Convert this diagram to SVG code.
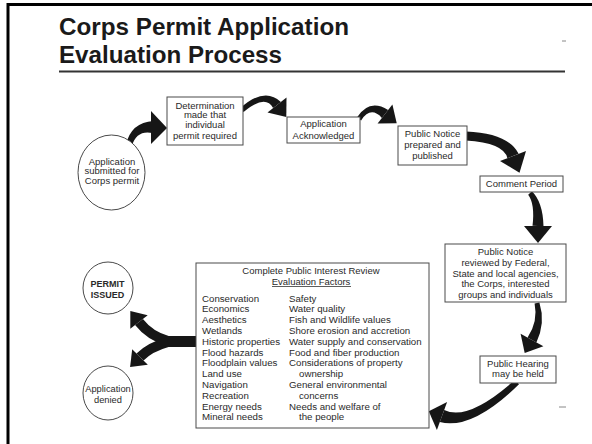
<svg xmlns="http://www.w3.org/2000/svg" width="592" height="444" viewBox="0 0 592 444">
<style>
.box{fill:#fff;stroke:#4a4a4a;stroke-width:1}
.t{font-family:"Liberation Sans",Arial,sans-serif;font-size:9.5px;fill:#2a2a2a;text-anchor:middle}
.f{font-family:"Liberation Sans",Arial,sans-serif;font-size:9.7px;fill:#2a2a2a}
.b{font-weight:bold}
.arr{fill:none;stroke:#161616;stroke-linecap:butt}
.hd{fill:#161616}
.title{font-family:"Liberation Sans",Arial,sans-serif;font-size:24px;font-weight:bold;fill:#1a1a1a}
</style>
<rect width="592" height="444" fill="#fff"/>
<line x1="7" y1="4.5" x2="592" y2="4.5" stroke="#000" stroke-width="3"/>
<line x1="8" y1="3" x2="8" y2="444" stroke="#000" stroke-width="3"/>
<g id="title">
<text class="title" x="59" y="35" textLength="290" lengthAdjust="spacingAndGlyphs">Corps Permit Application</text>
<text class="title" x="59" y="63" textLength="223" lengthAdjust="spacingAndGlyphs">Evaluation Process</text>
<line x1="59" y1="71.5" x2="565" y2="71.5" stroke="#333" stroke-width="2"/>
</g>
<line x1="562" y1="41" x2="566" y2="41" stroke="#888" stroke-width="1"/>
<line x1="559" y1="407" x2="566" y2="407" stroke="#888" stroke-width="1"/>

<g id="connectors">
<path class="hd" d="M126.1,144.25 Q131.3,122.4 153.3,121 L152.7,133 Q136.7,129.6 131.9,145.75 Z"/>
<polygon class="hd" points="151,111 167,128 151,144"/>
<path class="hd" d="M240.4,108.1 Q264.5,86.3 280.9,101.9 L273.1,108.1 Q265.5,93.7 243.6,111.9 Z"/>
<polygon class="hd" points="286.5,97.6 286.3,116.9 267.5,112.4"/>
<path class="hd" d="M356.9,117.6 Q369.3,98.3 388.1,110.1 L381.9,117.9 Q370.7,105.7 361.1,120.4 Z"/>
<polygon class="hd" points="392.4,104.6 396.7,123.3 377.6,123.4"/>
<path class="hd" d="M466.2,131.5 Q508,133.2 518.6,153.8 L507.4,158.2 Q504,142.8 465.8,140.5 Z"/>
<polygon class="hd" points="526,151 519.5,172.7 500,161"/>
<path class="hd" d="M531.9,191.3 Q542.9,202.1 543.5,226.2 L532.5,225.8 Q535.1,203.9 528.2,194.7 Z"/>
<polygon class="hd" points="524,226 552,226 538,243"/>
<path class="hd" d="M539.4,302.4 Q545.7,322.5 536.4,342.4 L527.6,337.6 Q538.3,321.5 534.6,303.6 Z"/>
<polygon class="hd" points="543.4,346.3 524.7,353.1 520.6,333.7"/>
<path class="hd" d="M519,384.2 Q472,430.3 439.8,422.1 L444.2,409.9 Q468,421.7 515,379.8 Z"/>
<polygon class="hd" points="447.1,401.9 428.8,411.2 436.9,430.1"/>
<path class="arr" stroke-width="11" d="M197,341.5 L162,341.5"/>
<path class="arr" stroke-width="10" d="M168,341 Q150,336 139,322"/>
<polygon class="hd" points="147.7,315.2 130.3,310.9 130.3,328.8"/>
<path class="arr" stroke-width="10" d="M168,342 Q150,347 140,357"/>
<polygon class="hd" points="147.8,364.8 130.1,366.9 132.2,349.2"/>
</g>

<g id="submitted">
<ellipse class="box" cx="111.5" cy="172.5" rx="33.5" ry="37.5"/>
<text class="t" x="112" y="164.5">Application</text>
<text class="t" x="112" y="174">submitted for</text>
<text class="t" x="112" y="183.5">Corps permit</text>
</g>
<g id="determination">
<rect class="box" x="167" y="97" width="76" height="48"/>
<text class="t" x="205" y="108.5">Determination</text>
<text class="t" x="205" y="118">made that</text>
<text class="t" x="205" y="127.5">individual</text>
<text class="t" x="205" y="139">permit required</text>
</g>
<g id="acknowledged">
<rect class="box" x="287" y="117" width="73" height="26"/>
<text class="t" x="323.5" y="127">Application</text>
<text class="t" x="323.5" y="138.5">Acknowledged</text>
</g>
<g id="notice">
<rect class="box" x="398" y="126" width="69" height="39"/>
<text class="t" x="432.5" y="137">Public Notice</text>
<text class="t" x="432.5" y="147.5">prepared and</text>
<text class="t" x="432.5" y="158.5">published</text>
</g>
<g id="comment">
<rect class="box" x="480" y="176" width="83" height="16"/>
<text class="t" x="521.5" y="187">Comment Period</text>
</g>
<g id="reviewed">
<rect class="box" x="445" y="244" width="121" height="58"/>
<text class="t" x="505.5" y="255">Public Notice</text>
<text class="t" x="505.5" y="266">reviewed by Federal,</text>
<text class="t" x="505.5" y="277">State and local agencies,</text>
<text class="t" x="505.5" y="287">the Corps, interested</text>
<text class="t" x="505.5" y="298">groups and individuals</text>
</g>
<g id="hearing">
<rect class="box" x="480" y="356" width="76" height="27"/>
<text class="t" x="518" y="366.5">Public Hearing</text>
<text class="t" x="518" y="377">may be held</text>
</g>
<g id="factors">
<rect class="box" x="196" y="263" width="233" height="165"/>
<text class="t" x="311" y="273.5">Complete Public Interest Review</text>
<text class="t" x="311" y="284.5">Evaluation Factors</text>
<line x1="272" y1="286.5" x2="351" y2="286.5" stroke="#333" stroke-width="0.8"/>
<text class="f" x="202" y="301.5">Conservation</text>
<text class="f" x="202" y="312.3">Economics</text>
<text class="f" x="202" y="323.1">Aesthetics</text>
<text class="f" x="202" y="333.9">Wetlands</text>
<text class="f" x="202" y="344.7">Historic properties</text>
<text class="f" x="202" y="355.5">Flood hazards</text>
<text class="f" x="202" y="366.3">Floodplain values</text>
<text class="f" x="202" y="377.1">Land use</text>
<text class="f" x="202" y="387.9">Navigation</text>
<text class="f" x="202" y="398.7">Recreation</text>
<text class="f" x="202" y="409.5">Energy needs</text>
<text class="f" x="202" y="420.3">Mineral needs</text>
<text class="f" x="289" y="301.5">Safety</text>
<text class="f" x="289" y="312.3">Water quality</text>
<text class="f" x="289" y="323.1">Fish and Wildlife values</text>
<text class="f" x="289" y="333.9">Shore erosion and accretion</text>
<text class="f" x="289" y="344.7">Water supply and conservation</text>
<text class="f" x="289" y="355.5">Food and fiber production</text>
<text class="f" x="289" y="366.3">Considerations of property</text>
<text class="f" x="299" y="377.1">ownership</text>
<text class="f" x="289" y="387.9">General environmental</text>
<text class="f" x="299" y="398.7">concerns</text>
<text class="f" x="289" y="409.5">Needs and welfare of</text>
<text class="f" x="299" y="420.3">the people</text>
</g>
<g id="issued">
<ellipse class="box" cx="108" cy="288" rx="25" ry="26"/>
<text class="t b" x="107.5" y="286.5" style="font-size:9px">PERMIT</text>
<text class="t b" x="107.5" y="297.5" style="font-size:9px">ISSUED</text>
</g>
<g id="denied">
<ellipse class="box" cx="108" cy="393" rx="25" ry="27"/>
<text class="t" x="108" y="391.5" style="font-size:9.3px">Application</text>
<text class="t" x="108" y="402.5" style="font-size:9.3px">denied</text>
</g>
</svg>
